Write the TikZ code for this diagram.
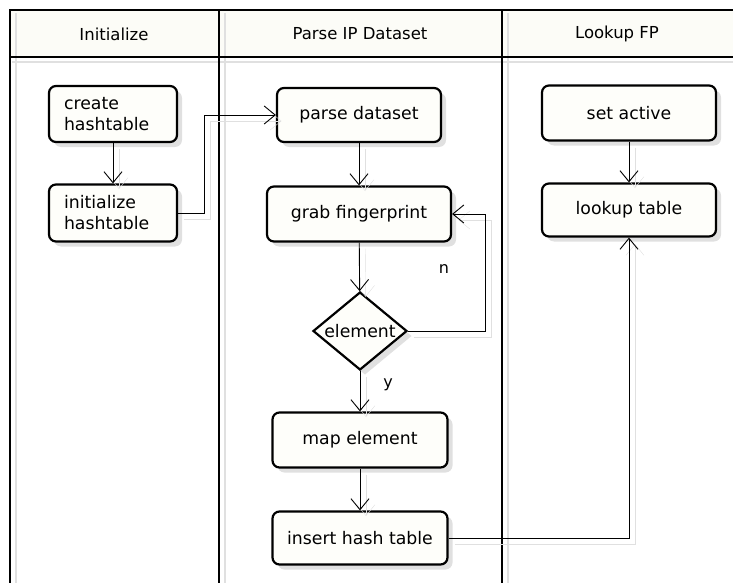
\documentclass[tikz,border=0pt]{standalone}
\usepackage{fontspec}
\setmainfont{DejaVu Sans}
\usetikzlibrary{arrows.meta,shapes.geometric,shadows}
\definecolor{nodefill}{HTML}{FEFEFA}
\definecolor{hdrfill}{HTML}{FCFCF7}
\definecolor{shadowgray}{HTML}{E0E0E0}
\begin{document}
\begin{tikzpicture}[x=1pt,y=-1pt,
  box/.style={draw, line width=2.2pt, rounded corners=7pt, fill=nodefill,
    font=\fontsize{17.3}{21}\selectfont, inner sep=0pt,
    drop shadow={shadow xshift=5pt, shadow yshift=-5pt, fill=shadowgray, opacity=1}},
  dec/.style={draw, diamond, line width=2.2pt, fill=nodefill, inner sep=0pt,
    minimum width=94pt, minimum height=78pt,
    drop shadow={shadow xshift=5pt, shadow yshift=-5pt, fill=shadowgray, opacity=1}},
  lane/.style={line width=2.5pt},
  laneshadow/.style={draw=shadowgray, line width=2pt},
  hdr/.style={font=\fontsize{16.5}{18}\selectfont},
  lbl/.style={font=\fontsize{16}{18}\selectfont},
  conn/.style={draw, line width=0.9pt,
    -{Straight Barb[length=11pt,width=18pt,line width=0.9pt]},
    preaction={draw=shadowgray, transform canvas={shift={(6pt,-6pt)}}}}
]
\useasboundingbox (0,0) rectangle (733,583);
% swimlanes
\fill[hdrfill] (10,10) rectangle (733,57);
\draw[laneshadow] (12,62) -- (733,62);
\foreach \x in {10,219,502} \draw[laneshadow] (\x+6,13) -- (\x+6,583);
\draw[lane] (10,583) -- (10,10) -- (733,10);
\draw[lane] (10,57) -- (733,57);
\draw[lane] (219,10) -- (219,583);
\draw[lane] (502,10) -- (502,583);
\node[hdr] (h1) at (114,34) {Initialize};
\node[hdr] (h2) at (360,34) {Parse IP Dataset};
\node[hdr] (h3) at (617,34) {Lookup FP};
% nodes
\node[box, text width=98pt, align=left, minimum height=56pt, inner xsep=15pt] (create) at (113,114) {create\\hashtable};
\node[box, text width=98pt, align=left, minimum height=57pt, inner xsep=15pt] (init) at (113,213) {initialize\\hashtable};
\node[box, minimum width=164pt, minimum height=54pt] (parse) at (359,115) {parse dataset};
\node[box, minimum width=184pt, minimum height=55pt] (grab) at (359,214) {grab fingerprint};
\node[dec, label={[font=\fontsize{17.3}{21}\selectfont]center:element}] (el) at (360,331) {};
\node[box, minimum width=175pt, minimum height=55pt] (map) at (360,440) {map element};
\node[box, minimum width=175pt, minimum height=53pt] (ins) at (360,538) {insert hash table};
\node[box, minimum width=174pt, minimum height=55pt] (set) at (629,113) {set active};
\node[box, minimum width=174pt, minimum height=53pt] (look) at (629,210) {lookup table};
% connectors
\draw[conn] (create) -- (init);
\draw[conn] (init.east) -- ++(26,0) |- (parse.west);
\draw[conn] (parse) -- (grab);
\draw[conn] (grab) -- (el);
\draw[conn] (el.east) -- ++(77,0) |- (grab.east);
\draw[conn] (el) -- (map);
\draw[conn] (map) -- (ins);
\draw[conn] (ins.east) -| (look.south);
\draw[conn] (set) -- (look);
\node[lbl] (n) at (444,269) {n};
\node[lbl] (y) at (388,385) {y};
\end{tikzpicture}
\end{document}
